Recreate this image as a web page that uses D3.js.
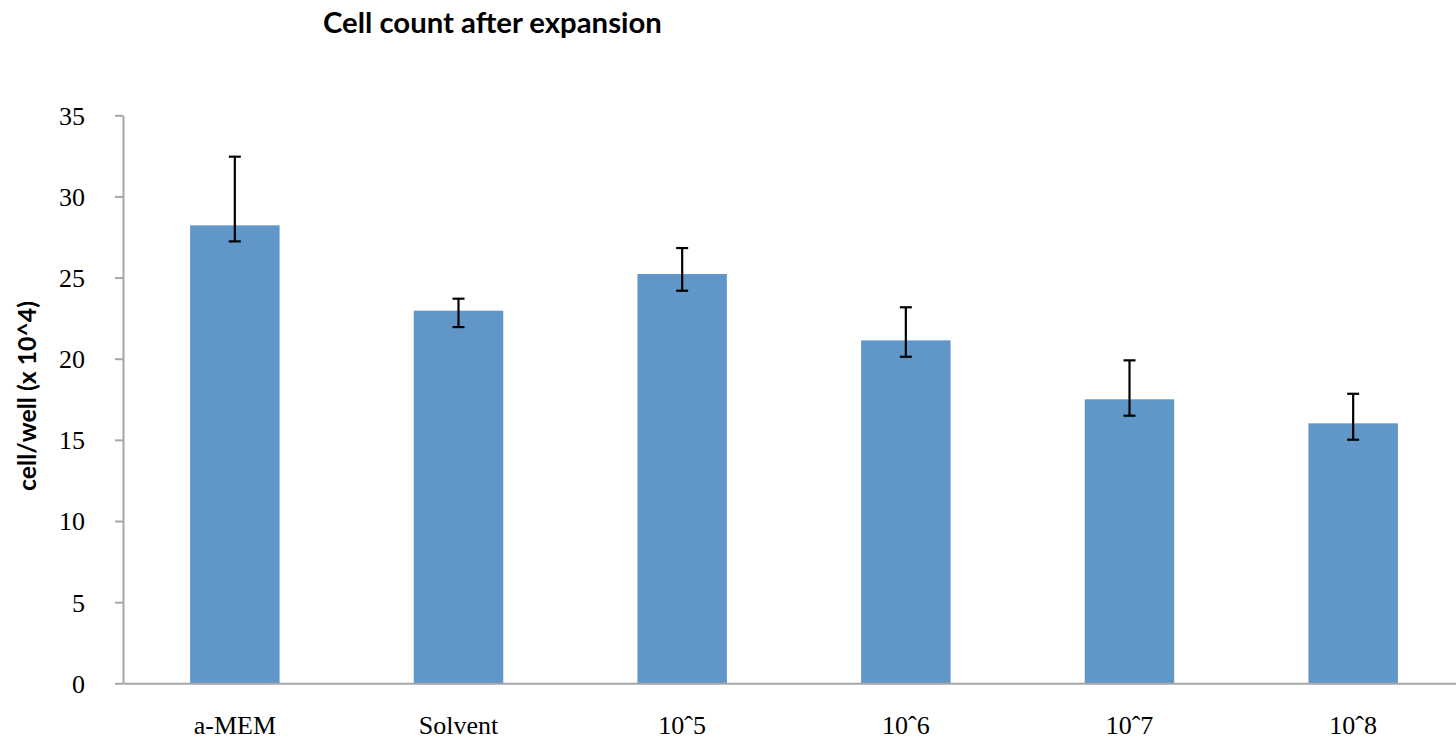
<!DOCTYPE html>
<html><head><meta charset="utf-8">
<script src="https://cdn.jsdelivr.net/npm/d3@7"></script>
<style>body{margin:0;background:#fff}svg{display:block}</style>
</head><body>
<svg id="c" width="1456" height="741"></svg>
<script>
const categories = ["a-MEM","Solvent","10^5","10^6","10^7","10^8"];
const values = [28.22, 22.96, 25.22, 21.13, 17.50, 16.02];
const errUpper = [32.45, 23.70, 26.82, 23.17, 19.90, 17.84];
const errLower = [27.23, 21.95, 24.19, 20.12, 16.49, 15.01];
const yTicks = [0,5,10,15,20,25,30,35];
const labelText = ["a-MEM","Solvent","10ˆ5","10ˆ6","10ˆ7","10ˆ8"];

const svg = d3.select("#c");
const x0 = 123, x1 = 1465, yTop = 115.3, yBot = 683.3;
const x = d3.scaleBand().domain(categories).range([x0, x1]).paddingInner(0.6).paddingOuter(0.3);
const y = d3.scaleLinear().domain([0,35]).range([yBot, yTop]);

// bars
svg.append("g").selectAll("rect").data(categories).join("rect")
  .attr("x", d => x(d)).attr("width", x.bandwidth())
  .attr("y", (d,i) => y(values[i])).attr("height", (d,i) => y(0) - y(values[i]))
  .attr("fill", "#6096C8");

// y axis
const yAxis = svg.append("g").attr("transform", `translate(${x0},0)`)
  .call(d3.axisLeft(y).tickValues(yTicks).tickSize(8).tickPadding(30).tickSizeOuter(0));
yAxis.select(".domain").attr("stroke", "#a6a6a6").attr("stroke-width", 2);
yAxis.selectAll(".tick line").attr("stroke", "#a6a6a6").attr("stroke-width", 2);
yAxis.selectAll(".tick text").attr("font-family", "'Liberation Serif', serif").attr("font-size", 26).attr("fill", "#000").attr("dy", "0.34em");

// x axis
const xAxis = svg.append("g").attr("transform", `translate(0,${yBot})`)
  .call(d3.axisBottom(x).tickSize(0).tickPadding(32).tickFormat((d,i) => labelText[i]));
xAxis.select(".domain").attr("stroke", "#a6a6a6").attr("stroke-width", 2);
xAxis.selectAll(".tick text").attr("font-family", "'Liberation Serif', serif").attr("font-size", 26).attr("fill", "#000");

// error bars
const eb = svg.append("g").attr("stroke", "#000").attr("stroke-width", 2.2);
categories.forEach((c,i) => {
  const cx = x(c) + x.bandwidth()/2;
  eb.append("line").attr("x1", cx).attr("x2", cx).attr("y1", y(errUpper[i])).attr("y2", y(errLower[i]));
  eb.append("line").attr("x1", cx-6).attr("x2", cx+6).attr("y1", y(errUpper[i])).attr("y2", y(errUpper[i]));
  eb.append("line").attr("x1", cx-6).attr("x2", cx+6).attr("y1", y(errLower[i])).attr("y2", y(errLower[i]));
});

// title
const t = svg.append("text").attr("x", 323).attr("y", 33)
  .attr("font-family", "Lato, 'Open Sans', sans-serif").attr("font-weight", "bold")
  .attr("font-size", 26).attr("fill", "#000").text("Cell count after expansion");
const tw = t.node().getComputedTextLength();
t.attr("font-size", 26 * 339 / tw);

// y title
const yt = svg.append("text").attr("transform", "translate(36,396) rotate(-90)")
  .attr("text-anchor", "middle")
  .attr("font-family", "Lato, 'Open Sans', sans-serif").attr("font-weight", "bold")
  .attr("font-size", 20).attr("fill", "#000").text("cell/well (x 10^4)");
const yw = yt.node().getComputedTextLength();
yt.attr("font-size", 20 * 190 / yw);
</script>
</body></html>
